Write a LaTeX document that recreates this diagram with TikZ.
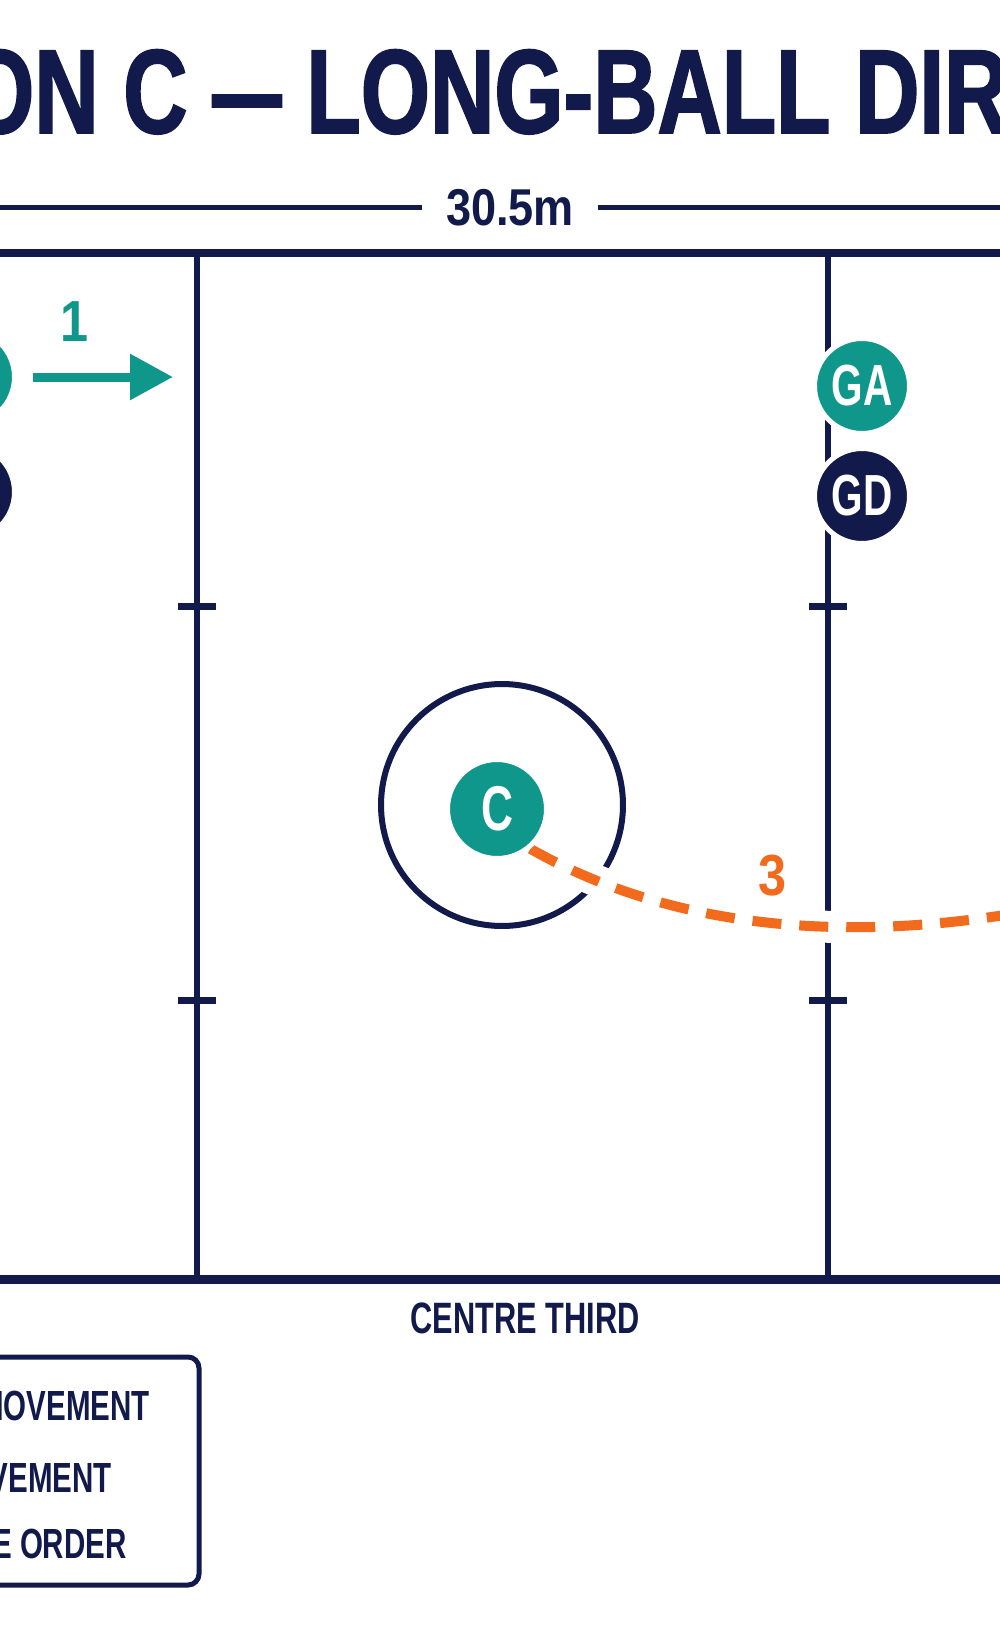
\documentclass[tikz,border=0pt]{standalone}
\usepackage{fontspec}
\setmainfont{Liberation Sans}
\newfontfamily\titlefont[FakeStretch=0.745,FakeBold=1.5]{Liberation Sans}
\newfontfamily\condfont[FakeStretch=0.70]{Liberation Sans}
\newfontfamily\numfont[FakeStretch=0.87]{Liberation Sans}
\usetikzlibrary{arrows.meta}
\definecolor{navy}{HTML}{111A4A}
\definecolor{courtteal}{HTML}{0E978A}
\definecolor{passorange}{HTML}{F26A1C}
\pgfdeclarelayer{back}
\pgfdeclarelayer{mid}
\pgfsetlayers{back,mid,main}

\begin{document}
\begin{tikzpicture}[x=0.02cm,y=-0.02cm,
  court/.style={navy,line width=0.12cm},
  player/.style={circle,minimum size=1.9cm,inner sep=0,draw=white,line width=0.1cm,text=white,font=\condfont\bfseries\fontsize{33}{33}\selectfont},
  atk/.style={player,fill=courtteal},
  dfn/.style={player,fill=navy},
  lbl/.style={navy,font=\condfont\bfseries\fontsize{24}{24}\selectfont},
  num/.style={font=\numfont\bfseries\fontsize{33}{33}\selectfont}]
\useasboundingbox (0,0) rectangle (1000,1632);
\begin{pgfonlayer}{back}
\fill[white] (0,0) rectangle (1000,1632);
\draw[court,line width=0.18cm] (-20,253) -- (1020,253);
\draw[court,line width=0.18cm] (-20,1279) -- (1020,1279);
\foreach \x in {197,828}{
  \draw[court] (\x,253) -- (\x,1279);
  \foreach \y in {606,1000} \draw[court,line width=0.14cm] (\x-19,\y) -- (\x+19,\y);
}
\draw[court] (502,805) circle[radius=2.42cm];
\end{pgfonlayer}
\node[navy,anchor=base west,inner sep=0,font=\titlefont\bfseries\fontsize{68}{70}\selectfont] (title) at (-243,133) {OPTION C \scalebox{0.78}[1]{—} LONG-BALL DIRECT};
\node[navy,inner xsep=0.48cm,font=\numfont\bfseries\fontsize{29.5}{30}\selectfont] (dim) at (510,208) {30.5m};
\coordinate (dl) at (-20,208);
\coordinate (dr) at (1020,208);
\draw[navy,line width=0.1cm] (dl) -- (dim.west);
\draw[navy,line width=0.1cm] (dim.east) -- (dr);
\node[atk] (wa) at (-33,377) {};
\node[dfn] (wd) at (-33,492) {};
\node[atk] (ga) at (862,386) {GA};
\node[dfn] (gd) at (862,496) {GD};
\node[atk,minimum size=1.98cm,font=\condfont\bfseries\fontsize{36}{36}\selectfont] (c) at (497,809) {C};
\coordinate (a1) at (173,377);
\draw[courtteal,line width=0.18cm,-{Triangle[length=0.86cm,width=0.88cm]},shorten <=0.33cm] (wa) -- (a1);
\node[num,courtteal] (n1) at (75,322) {1};
\coordinate (pend) at (1060,905);
\begin{pgfonlayer}{mid}
\draw[white,line width=0.64cm] (c.-50) .. controls (700,945) and (900,938) .. (pend);
\draw[passorange,line width=0.2cm,dash pattern=on 0.58cm off 0.36cm] (c.-50) .. controls (700,945) and (900,938) .. (pend);
\end{pgfonlayer}
\node[num,passorange] (n3) at (773,876) {3};
\node[lbl,font=\condfont\bfseries\fontsize{25}{25}\selectfont] (ct) at (525,1318) {CENTRE THIRD};
\draw[navy,line width=0.1cm,rounded corners=0.22cm] (-40,1357) rectangle (199,1585);
\node[lbl,anchor=base east,inner sep=0] (k1) at (150,1420) {PLAYER MOVEMENT};
\node[lbl,anchor=base east,inner sep=0] (k2) at (112,1492) {BALL MOVEMENT};
\node[lbl,anchor=base east,inner sep=0] (k3) at (127,1558) {SEQUENCE ORDER};
\end{tikzpicture}
\end{document}
